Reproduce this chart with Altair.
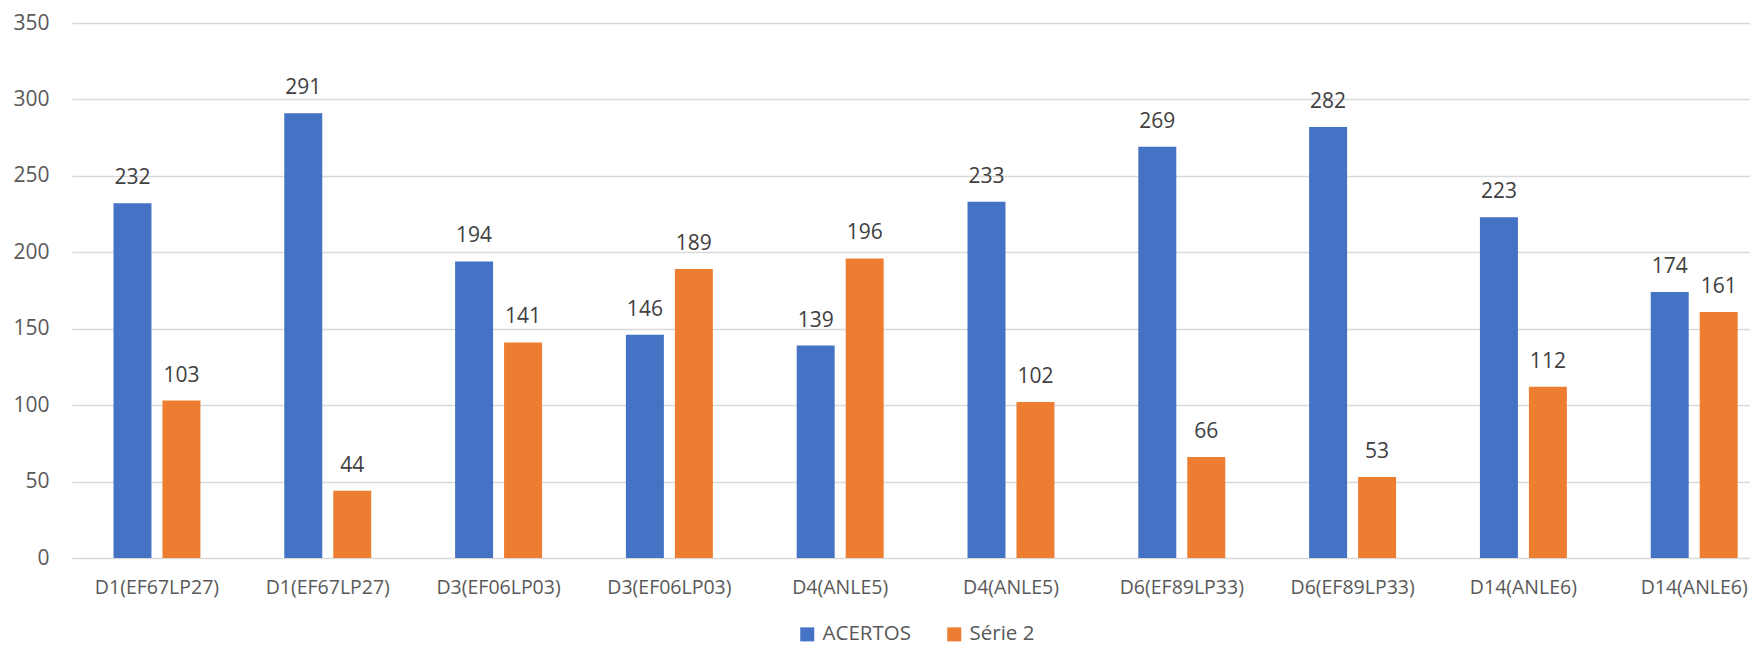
import altair as alt
import pandas as pd

categories = ["D1(EF67LP27)", "D1(EF67LP27)", "D3(EF06LP03)", "D3(EF06LP03)", "D4(ANLE5)",
              "D4(ANLE5)", "D6(EF89LP33)", "D6(EF89LP33)", "D14(ANLE6)", "D14(ANLE6)"]
acertos = [232, 291, 194, 146, 139, 233, 269, 282, 223, 174]
serie2 = [103, 44, 141, 189, 196, 102, 66, 53, 112, 161]
series_names = ["ACERTOS", "Série 2"]
colors = ["#4472C4", "#ED7D31"]
y_ticks = [0, 50, 100, 150, 200, 250, 300, 350]

rows = []
for i in range(len(categories)):
    rows.append({"idx": i, "series": series_names[0], "value": acertos[i]})
    rows.append({"idx": i, "series": series_names[1], "value": serie2[i]})
df = pd.DataFrame(rows)

label_array = "[" + ",".join("'" + c + "'" for c in categories) + "]"
FONT = "Open Sans"

x = alt.X(
    "idx:O",
    scale=alt.Scale(paddingInner=0.491, paddingOuter=0.1575, align=0.771),
    axis=alt.Axis(title=None, labelExpr=label_array + "[datum.value]", labelAngle=0,
                  ticks=False, domain=False, labelFontSize=19.5, labelColor="#595959",
                  labelFont=FONT, labelPadding=20),
)
xoff = alt.XOffset("series:N", scale=alt.Scale(domain=series_names, paddingInner=0.2245))
y = alt.Y(
    "value:Q",
    scale=alt.Scale(domain=[0, 350]),
    axis=alt.Axis(values=y_ticks, title=None, grid=True, gridColor="#D9D9D9", gridWidth=1.5,
                  domain=False, ticks=False, labelFontSize=21, labelColor="#595959",
                  labelFont=FONT, labelPadding=23, minExtent=64, maxExtent=64),
)

bars = alt.Chart(df).mark_bar().encode(
    x=x, xOffset=xoff, y=y,
    color=alt.Color(
        "series:N",
        scale=alt.Scale(domain=series_names, range=colors),
        legend=alt.Legend(title=None, orient="none", legendX=725, legendY=601,
                          direction="horizontal", symbolType="square", symbolSize=196,
                          symbolStrokeWidth=0, labelFontSize=20.5, labelColor="#595959",
                          labelFont=FONT, columnPadding=33, labelOffset=5,
                          labelBaseline="middle"),
    ),
)

labels = alt.Chart(df).mark_text(baseline="alphabetic", dy=-19, fontSize=21,
                                 color="#404040", font=FONT).encode(
    x=x, xOffset=xoff, y=y, text="value:Q"
)

chart = (bars + labels).properties(
    width=1678, height=535,
    padding={"left": 0, "top": 4, "right": 0, "bottom": 0},
).configure_view(stroke=None)

chart.save("out.html", embed_options={"renderer": "svg", "actions": False})
